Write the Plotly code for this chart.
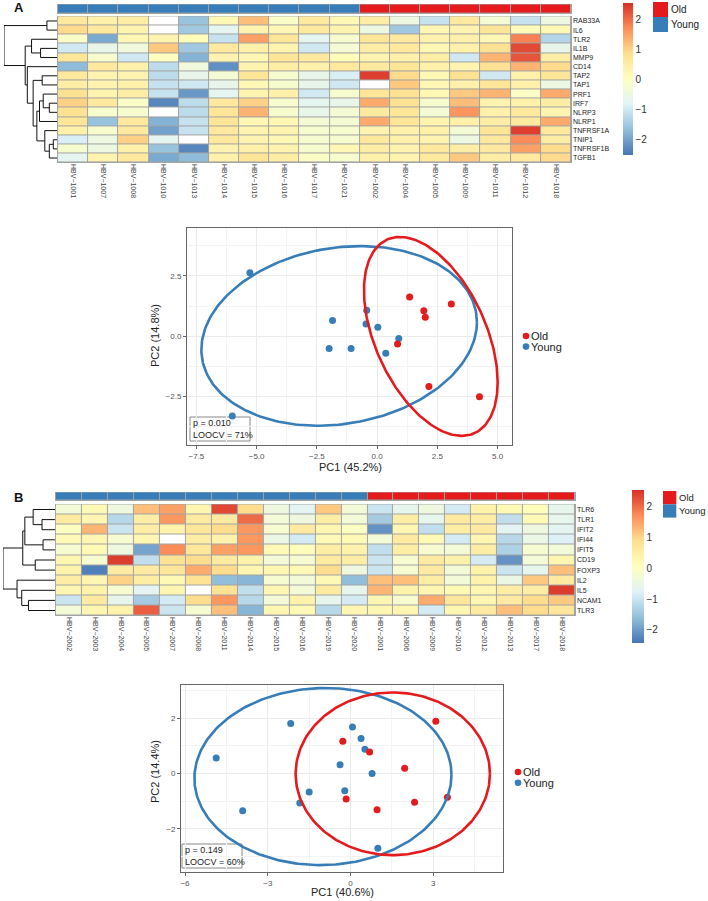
import numpy as np
import plotly.graph_objects as go

W, H = 708, 901

# ---------------- data: panel A heatmap ----------------
genes_a = ["RAB33A", "IL6", "TLR2", "IL1B", "MMP9", "CD14", "TAP2", "TAP1", "PRF1",
           "IRF7", "NLRP3", "NLRP1", "TNFRSF1A", "TNIP1", "TNFRSF1B", "TGFB1"]
samples_a = ["HBV−1001", "HBV−1007", "HBV−1008", "HBV−1010", "HBV−1013", "HBV−1014",
             "HBV−1015", "HBV−1016", "HBV−1017", "HBV−1021", "HBV−1002", "HBV−1004",
             "HBV−1005", "HBV−1009", "HBV−1011", "HBV−1012", "HBV−1018"]
group_a = ["Young", "Young", "Young", "Young", "Young", "Young", "Young", "Young", "Young",
           "Young", "Old", "Old", "Old", "Old", "Old", "Old", "Old"]
expr_a = [
    [0.6, 0.4, 0.5, None, -1.6, 0.2, 1.2, -0.1, 0.6, 0.2, 0.5, -0.5, -1.1, 0.6, -0.3, -1.1, -0.5],
    [0.9, 0.6, 0.3, None, -1.5, -0.7, 0.3, 0.2, 0.6, 0.3, -0.5, -1.5, 0.2, 0.3, 0.7, 0.1, 0.2],
    [-0.1, -1.9, 0.2, 0.3, 0.1, -1.1, 1.5, 0.7, -0.7, -0.2, 0.7, 0.6, 0.3, 0.4, 0.2, 1.8, -1.3],
    [-1.0, -0.6, -0.4, 1.1, -1.5, 0.6, 0.4, 0.3, -1.0, -0.3, 0.5, 0.6, 0.2, 0.4, 0.8, 2.3, -0.6],
    [0.7, -0.2, -1.0, 0.0, -1.8, 0.3, 0.2, 0.7, 0.6, 0.1, 0.3, 0.4, 0.5, -1.0, 1.3, 2.2, 0.5],
    [-1.7, 0.6, 0.4, -1.2, -0.4, -2.2, 0.3, 0.5, 0.4, 0.6, 0.6, 0.7, 0.4, 0.3, 0.8, 1.3, 0.9],
    [0.6, 0.3, 0.3, -1.2, -0.6, -0.3, 0.7, -0.2, -0.6, -0.9, 2.4, 0.9, 0.2, 0.8, -1.0, 0.4, 0.7],
    [0.5, 0.3, 0.4, -1.1, -1.0, -0.6, 0.2, -0.2, -0.6, -1.0, None, 1.1, 0.2, 0.4, 0.7, 0.4, -0.5],
    [0.8, 0.3, 0.5, -1.1, -2.1, -0.7, 0.3, 0.4, -1.0, -0.2, 0.7, 0.8, 0.2, 1.1, 1.3, -0.1, 1.4],
    [1.0, 0.6, -0.1, -2.3, -1.2, 0.6, 1.0, -0.2, -0.7, -0.6, 1.4, 0.8, -0.2, 1.2, 0.3, 0.4, 0.5],
    [0.8, -0.2, -0.2, None, -1.2, 0.7, 1.3, -0.2, -0.6, -0.3, 0.6, 0.7, -0.3, 1.6, 0.4, 0.6, 0.3],
    [0.7, -1.6, 0.6, -1.8, -1.1, 0.7, 0.2, 0.2, -0.3, -0.3, 1.4, 0.7, 0.3, 0.4, 0.5, 0.6, 1.4],
    [0.4, -0.2, 0.6, -2.0, -1.1, 0.6, 0.3, 0.3, -0.2, -0.2, 0.3, 0.4, 0.4, -0.3, 0.7, 2.4, 0.6],
    [-0.9, -0.5, 1.0, -0.7, None, 0.6, 0.3, 0.2, -0.2, -0.2, 0.6, 0.4, 0.3, -0.5, 0.6, 1.7, 0.5],
    [-0.2, -0.5, 0.4, -1.6, -2.3, 0.3, 0.4, 0.3, -0.2, 0.2, 0.5, 0.3, 0.6, 0.5, 0.6, 1.5, 0.9],
    [-0.7, 0.3, 0.6, -1.9, -1.7, 0.4, 0.7, 0.5, -0.1, -0.2, 0.4, 0.3, 0.6, 1.1, 0.5, 0.6, 0.9],
]
# row dendrogram: (child, child, merge height); children >= n refer to earlier merges
dendro_a = [(0, 1, 0.19), (3, 4, 0.31), (2, 17, 0.48), (6, 7, 0.28), (9, 10, 0.145),
            (8, 20, 0.26), (21, 11, 0.33), (13, 14, 0.07), (23, 15, 0.145), (12, 24, 0.23),
            (22, 25, 0.38), (19, 26, 0.45), (5, 27, 0.56), (18, 28, 0.6), (16, 29, 1.0)]

# ---------------- data: panel A PCA ----------------
pca_a_young_pc1 = [-5.28, -6.01, -1.85, -1.99, -1.08, -0.43, -0.46, 0.03, 0.36, 0.90]
pca_a_young_pc2 = [2.63, -3.32, 0.65, -0.51, -0.51, 1.07, 0.50, 0.37, -0.71, -0.10]
pca_a_old_pc1 = [1.35, 1.94, 2.00, 3.08, 0.85, 2.15, 4.25]
pca_a_old_pc2 = [1.63, 1.05, 0.78, 1.33, -0.33, -2.09, -2.52]
# ellipse (center x, center y, var x, var y, cov xy)
ell_a_young = (-1.575, 0.01, 32.7, 13.9, 3.26)
ell_a_old = (2.23, -0.01, 7.70, 17.06, -5.29)
stats_a = ["p = 0.010", "LOOCV = 71%"]
pc_titles_a = ["PC1 (45.2%)", "PC2 (14.8%)"]

# ---------------- data: panel B heatmap ----------------
genes_b = ["TLR6", "TLR1", "IFIT2", "IFI44", "IFIT5", "CD19", "FOXP3", "IL2", "IL5", "NCAM1", "TLR3"]
samples_b = ["HBV−2002", "HBV−2003", "HBV−2004", "HBV−2005", "HBV−2007", "HBV−2008",
             "HBV−2011", "HBV−2014", "HBV−2015", "HBV−2016", "HBV−2019", "HBV−2020",
             "HBV−2001", "HBV−2006", "HBV−2009", "HBV−2010", "HBV−2012", "HBV−2013",
             "HBV−2017", "HBV−2018"]
group_b = ["Young"] * 12 + ["Old"] * 8
expr_b = [
    [-0.3, 0.2, -0.4, 1.2, 1.5, 0.3, 2.3, 0.9, -0.4, -0.7, 1.1, -0.3, -1.0, -0.6, -0.4, -0.9, 0.4, 0.2, 0.1, -0.6],
    [0.6, 0.3, -1.2, 0.5, 1.6, 0.6, 0.6, 2.0, -0.3, -0.4, 0.5, -0.3, -1.4, 0.5, -0.6, 0.6, 0.5, -1.1, 0.2, -0.6],
    [0.0, 1.3, -1.0, 0.5, 0.4, 0.7, 0.9, 1.6, -0.2, 0.6, 0.3, 0.0, -2.1, 0.3, -1.1, 0.5, 0.6, -0.7, -0.4, -0.7],
    [0.2, 0.3, -0.2, 0.3, None, 0.5, 0.4, 1.6, -0.5, -0.9, 0.2, 0.2, -0.3, 0.6, 0.2, -0.9, 0.3, -1.2, -0.5, -0.8],
    [-0.2, 0.2, -0.4, -1.9, 1.7, 0.7, 1.5, 1.6, 0.2, 0.1, 0.5, 0.4, -1.1, 0.5, -0.2, -0.3, 0.5, -1.3, -0.2, -0.3],
    [0.3, -0.2, 2.4, -1.1, 0.8, 0.9, 0.6, 0.4, -0.3, -0.2, 0.6, 0.5, -1.0, -0.2, 0.6, 0.4, -0.9, -2.1, -0.3, 0.3],
    [0.4, -2.3, 0.6, 0.6, 0.7, 1.4, 0.9, 0.3, 0.3, 0.2, 0.9, -0.4, -1.0, -0.2, 0.6, -0.3, 0.4, -1.0, -0.6, 1.2],
    [0.5, 0.3, 1.0, 0.5, 0.2, 0.8, -1.6, -1.7, -0.2, -0.3, 0.2, -1.6, 1.2, 1.2, 0.5, -0.3, 0.4, -0.5, 1.1, 0.6],
    [0.3, 0.4, -0.2, -0.7, 0.3, None, 0.8, -1.1, 0.3, -0.3, 0.6, -0.6, 1.3, 0.4, 0.3, 0.2, 0.3, 0.5, 0.5, 2.4],
    [-1.0, 0.6, -0.6, -1.4, -0.9, 0.9, 1.6, -1.2, -0.3, 0.4, -0.6, -0.9, 0.3, -0.2, 1.4, 0.7, 0.3, 0.6, 0.9, 1.1],
    [-0.3, 0.3, 0.4, 2.1, -1.0, -0.2, 1.2, -1.7, 0.3, 0.2, -1.2, 0.3, 0.3, 0.3, -0.9, 0.3, 0.6, 1.2, 0.9, 0.7],
]
dendro_b = [(1, 2, 0.25), (0, 11, 0.42), (3, 4, 0.23), (12, 13, 0.58), (5, 6, 0.38),
            (14, 15, 0.62), (9, 10, 0.51), (8, 17, 0.64), (7, 18, 0.73), (16, 19, 1.0)]

# ---------------- data: panel B PCA ----------------
pca_b_young_pc1 = [-2.17, -4.87, -3.91, -1.50, -1.84, 0.07, 0.38, 0.52, -0.38, 0.78, -0.21, 0.99]
pca_b_young_pc2 = [1.81, 0.56, -1.35, -0.67, -1.07, 1.68, 1.27, 0.88, 0.32, 0.00, -0.62, -2.70]
pca_b_old_pc1 = [-0.28, 0.69, 3.09, 1.96, -0.16, 0.96, 2.32, 3.51]
pca_b_old_pc2 = [1.17, 0.78, 1.89, 0.19, -0.92, -1.31, -1.04, -0.86]
ell_b_young = (-1.0, -0.11, 21.7, 10.24, 0.3)
ell_b_old = (1.53, -0.01, 12.4, 8.64, 0.0)
stats_b = ["p = 0.149", "LOOCV = 60%"]
pc_titles_b = ["PC1 (40.6%)", "PC2 (14.4%)"]

group_names = ["Old", "Young"]

# ---------------- styles ----------------
FONT = "Liberation Sans, Arial, sans-serif"
RED, BLUE = "#E41A1C", "#377EB8"
RDYLBU = ["#4575B4", "#91BFDB", "#E0F3F8", "#FFFFBF", "#FEE090", "#FC8D59", "#D73027"]
heat_scale = [[i / 6, c] for i, c in enumerate(RDYLBU)]
group_scale = [[0, BLUE], [0.5, BLUE], [0.5, RED], [1, RED]]
CELL_BORDER = "#A3A3A3"


def fx(px):
    return px / W


def fy(py):
    return 1 - py / H


def dendro_lines(merges, n):
    pos = {i: (float(i), 0.0) for i in range(n)}
    xs, ys = [], []
    for k, (a, b, h) in enumerate(merges):
        ya, ha = pos[a]
        yb, hb = pos[b]
        xs += [ha, h, h, hb, None]
        ys += [ya, ya, yb, yb, None]
        pos[n + k] = ((ya + yb) / 2, h)
    return xs, ys


def ellipse_xy(params, n=240):
    cx, cy, sxx, syy, sxy = params
    t = np.linspace(0, 2 * np.pi, n)
    L = np.linalg.cholesky(np.array([[sxx, sxy], [sxy, syy]]))
    pts = L @ np.vstack([np.cos(t), np.sin(t)])
    return cx + pts[0], cy + pts[1]


fig = go.Figure()
shapes, annotations = [], []
layout_axes = {}


def add_heatmap_panel(expr, samples, genes, groups, dendro, ax, box, cb):
    nr, nc = len(genes), len(samples)
    xs, ys = list(range(nc)), list(range(nr))
    xa, ya, yb, xd, yd = ax["x"], ax["y"], ax["ybar"], ax["xd"], ax["yd"]
    fig.add_trace(go.Heatmap(
        z=expr, x=xs, y=ys, xaxis=xa, yaxis=ya, colorscale=heat_scale,
        zmin=cb["zmin"], zmax=cb["zmax"], xgap=1, ygap=1, hoverongaps=False,
        colorbar=dict(x=fx(cb["x"]), xanchor="left", y=fy(cb["top"]), yanchor="top",
                      len=(cb["bottom"] - cb["top"]) / H, lenmode="fraction",
                      thickness=cb["thick"], xpad=0, ypad=0, outlinewidth=0,
                      tickvals=[-2, -1, 0, 1, 2], ticktext=["−2", "−1", "0", "1", "2"],
                      ticks="", tickfont=dict(size=10, color="#333333", family=FONT))))
    na = [[1 if v is None else None for v in row] for row in expr]
    fig.add_trace(go.Heatmap(z=na, x=xs, y=ys, xaxis=xa, yaxis=ya,
                             colorscale=[[0, "white"], [1, "white"]], zmin=0, zmax=1,
                             showscale=False, xgap=1, ygap=1, hoverinfo="skip"))
    fig.add_trace(go.Heatmap(z=[[0 if g == "Young" else 1 for g in groups]], x=xs, y=[0],
                             xaxis=xa, yaxis=yb, colorscale=group_scale, zmin=0, zmax=1,
                             showscale=False, xgap=1, ygap=1, text=[groups],
                             hovertemplate="%{text}<extra></extra>"))
    dx, dy = dendro_lines(dendro, nr)
    fig.add_trace(go.Scatter(x=dx, y=dy, xaxis=xd, yaxis=yd, mode="lines",
                             line=dict(color="#111111", width=1), hoverinfo="skip",
                             showlegend=False, cliponaxis=False))

    xpad, ypad = 0.035, 0.045
    xdom = [fx(box["x0"]), fx(box["x1"])]
    ydom = [fy(box["y1"]), fy(box["y0"])]
    bdom = [fy(box["b1"]), fy(box["b0"])]
    layout_axes[ax["xname"]] = dict(
        domain=xdom, anchor=ya, range=[-0.5 - xpad, nc - 0.5 + xpad],
        tickvals=xs, ticktext=samples, tickangle=90, ticks="", showgrid=False,
        zeroline=False, showline=False, tickfont=dict(size=7, color="#444444", family=FONT))
    layout_axes[ax["yname"]] = dict(
        domain=ydom, anchor=xa, range=[nr - 0.5 + ypad, -0.5 - ypad], side="right",
        tickvals=ys, ticktext=genes, ticks="", showgrid=False, zeroline=False,
        showline=False, tickfont=dict(size=7, color="#222222", family=FONT))
    layout_axes[ax["ybarname"]] = dict(
        domain=bdom, anchor=xa, range=[-0.5 - 0.06, 0.5 + 0.06], showticklabels=False,
        ticks="", showgrid=False, zeroline=False, showline=False)
    layout_axes[ax["xdname"]] = dict(
        domain=[fx(box["d0"]), fx(box["x0"])], anchor=yd, range=[1.0, 0.0], visible=False)
    layout_axes[ax["ydname"]] = dict(
        domain=ydom, anchor=xd, range=[nr - 0.5 + ypad, -0.5 - ypad], visible=False)
    for (a0, a1) in [(box["y0"], box["y1"]), (box["b0"], box["b1"])]:
        shapes.append(dict(type="rect", xref="paper", yref="paper", layer="below",
                           x0=xdom[0], x1=xdom[1], y0=fy(a1), y1=fy(a0),
                           fillcolor=CELL_BORDER, line=dict(width=0)))
    lg = box["leg"]
    for i, (name, col) in enumerate(zip(group_names, [RED, BLUE])):
        top = lg["y"] + i * lg["s"]
        shapes.append(dict(type="rect", xref="paper", yref="paper",
                           x0=fx(lg["x"]), x1=fx(lg["x"] + lg["s"]),
                           y0=fy(top + lg["s"]), y1=fy(top), fillcolor=col,
                           line=dict(width=0)))
        annotations.append(dict(xref="paper", yref="paper", x=fx(lg["x"] + lg["s"] + 1),
                                y=fy(top + lg["s"] / 2), xanchor="left", yanchor="middle",
                                text=name, showarrow=False,
                                font=dict(size=lg["f"], color="#222222", family=FONT)))


def add_pca_panel(yx, yy, ox, oy, ell_y, ell_o, stats, titles, ax, box, fmt, xt, yt, xminor, yminor):
    xa, ya = ax["x"], ax["y"]
    fig.add_trace(go.Scatter(x=yx, y=yy, xaxis=xa, yaxis=ya, mode="markers", name="Young",
                             marker=dict(color=BLUE, size=7), showlegend=False))
    fig.add_trace(go.Scatter(x=ox, y=oy, xaxis=xa, yaxis=ya, mode="markers", name="Old",
                             marker=dict(color=RED, size=7), showlegend=False))
    ex, ey = ellipse_xy(ell_y)
    fig.add_trace(go.Scatter(x=ex, y=ey, xaxis=xa, yaxis=ya, mode="lines",
                             line=dict(color=BLUE, width=2.6), hoverinfo="skip",
                             showlegend=False))
    ex, ey = ellipse_xy(ell_o)
    fig.add_trace(go.Scatter(x=ex, y=ey, xaxis=xa, yaxis=ya, mode="lines",
                             line=dict(color=RED, width=2.6), hoverinfo="skip",
                             showlegend=False))
    common = dict(showline=True, mirror=True, linecolor="#666666", linewidth=1,
                  ticks="outside", ticklen=3, tickcolor="#666666", showgrid=True,
                  gridcolor="#EBEBEB", gridwidth=1, zeroline=False, tickformat=fmt,
                  tickfont=dict(size=8, color="#555555", family=FONT))
    layout_axes[ax["xname"]] = dict(
        common, domain=[fx(box["x0"]), fx(box["x1"])], anchor=ya, range=box["xr"],
        tickvals=xt, minor=dict(tickvals=xminor, showgrid=True, gridcolor="#F3F3F3",
                                gridwidth=0.8, ticks=""))
    layout_axes[ax["yname"]] = dict(
        common, domain=[fy(box["y1"]), fy(box["y0"])], anchor=xa, range=box["yr"],
        tickvals=yt, minor=dict(tickvals=yminor, showgrid=True, gridcolor="#F3F3F3",
                                gridwidth=0.8, ticks=""))
    tx, ty = box["xtitle"]
    annotations.append(dict(xref="paper", yref="paper", x=fx(tx), y=fy(ty),
                            xanchor="center", yanchor="middle", text=titles[0],
                            showarrow=False, borderpad=0,
                            font=dict(size=11, color="#222222", family=FONT)))
    tx, ty = box["ytitle"]
    annotations.append(dict(xref="paper", yref="paper", x=fx(tx), y=fy(ty),
                            xanchor="center", yanchor="middle", text=titles[1],
                            textangle=-90, showarrow=False, borderpad=0,
                            font=dict(size=11, color="#222222", family=FONT)))
    st = box["stat"]
    shapes.append(dict(type="rect", xref="paper", yref="paper", layer="below",
                       x0=fx(st[0]), x1=fx(st[2]), y0=fy(st[3]), y1=fy(st[1]),
                       fillcolor="white", line=dict(color="#888888", width=1)))
    annotations.append(dict(xref="paper", yref="paper", x=fx(st[0] + 2),
                            y=fy((st[1] + st[3]) / 2), xanchor="left", yanchor="middle",
                            align="left", text="<br>".join(stats), showarrow=False,
                            borderpad=0, font=dict(size=9, color="#222222", family=FONT)))
    lg = box["leg"]
    for i, (name, col) in enumerate(zip(group_names, [RED, BLUE])):
        cy = lg["y"] + i * lg["s"]
        r = 3.3
        shapes.append(dict(type="circle", xref="paper", yref="paper",
                           x0=fx(lg["x"] - r), x1=fx(lg["x"] + r),
                           y0=fy(cy + r), y1=fy(cy - r), fillcolor=col,
                           line=dict(width=0)))
        annotations.append(dict(xref="paper", yref="paper", x=fx(lg["x"] + 4),
                                y=fy(cy), xanchor="left", yanchor="middle", text=name,
                                showarrow=False, borderpad=0,
                                font=dict(size=11, color="#222222", family=FONT)))


add_heatmap_panel(
    expr_a, samples_a, genes_a, group_a, dendro_a,
    dict(x="x", y="y", ybar="y2", xd="x3", yd="y3", xname="xaxis", yname="yaxis",
         ybarname="yaxis2", xdname="xaxis3", ydname="yaxis3"),
    dict(x0=57, x1=572, y0=16, y1=163, b0=4, b1=14, d0=4,
         leg=dict(x=653, y=2, s=15, f=10)),
    dict(zmin=-2.5, zmax=2.53, x=623, top=3, bottom=155, thick=10))

add_pca_panel(
    pca_a_young_pc1, pca_a_young_pc2, pca_a_old_pc1, pca_a_old_pc2, ell_a_young, ell_a_old,
    stats_a, pc_titles_a,
    dict(x="x4", y="y4", xname="xaxis4", yname="yaxis4"),
    dict(x0=187, x1=512, y0=228, y1=445, xr=[-7.89, 5.6], yr=[-4.52, 4.49],
         xtitle=(350, 467), ytitle=(155, 336), stat=(190, 417, 250, 441),
         leg=dict(x=526, y=336, s=10.6)),
    ".1f", [-7.5, -5, -2.5, 0, 2.5, 5], [-2.5, 0, 2.5],
    [-6.25, -3.75, -1.25, 1.25, 3.75], [-3.75, -1.25, 1.25, 3.75])

add_heatmap_panel(
    expr_b, samples_b, genes_b, group_b, dendro_b,
    dict(x="x5", y="y5", ybar="y6", xd="x7", yd="y7", xname="xaxis5", yname="yaxis5",
         ybarname="yaxis6", xdname="xaxis7", ydname="yaxis7"),
    dict(x0=55, x1=576, y0=504, y1=616, b0=492, b1=501, d0=3,
         leg=dict(x=663, y=491, s=13.3, f=9.5)),
    dict(zmin=-2.42, zmax=2.52, x=632, top=490, bottom=643, thick=12))

add_pca_panel(
    pca_b_young_pc1, pca_b_young_pc2, pca_b_old_pc1, pca_b_old_pc2, ell_b_young, ell_b_old,
    stats_b, pc_titles_b,
    dict(x="x8", y="y8", xname="xaxis8", yname="yaxis8"),
    dict(x0=181, x1=503, y0=685, y1=872, xr=[-6.145, 5.525], yr=[-3.56, 3.2],
         xtitle=(342, 892), ytitle=(155, 772), stat=(182, 844, 242, 868),
         leg=dict(x=518, y=772, s=10.7)),
    "d", [-6, -3, 0, 3], [-2, 0, 2],
    [-4.5, -1.5, 1.5, 4.5], [-3, -1, 1, 3])

for label, py in [("A", 8), ("B", 497)]:
    annotations.append(dict(xref="paper", yref="paper", x=fx(12), y=fy(py), xanchor="left",
                            yanchor="middle", text="<b>%s</b>" % label, showarrow=False,
                            font=dict(size=13, color="#111111", family=FONT)))

fig.update_layout(
    width=W, height=H, margin=dict(l=0, r=0, t=0, b=0), autosize=False,
    paper_bgcolor="white", plot_bgcolor="white", showlegend=False,
    font=dict(family=FONT, color="#222222"),
    shapes=shapes, annotations=annotations, **layout_axes)

fig.write_html("out.html", config={"displayModeBar": False},
               post_script="document.body.style.margin='0';document.body.style.padding='0';")
